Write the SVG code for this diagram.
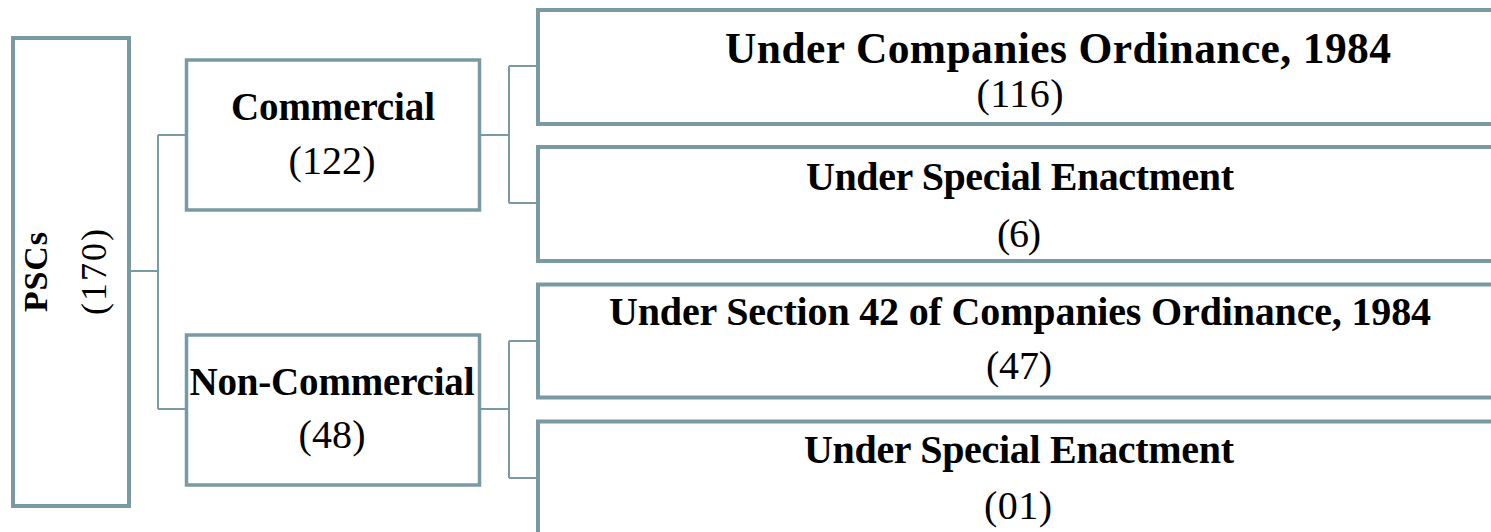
<svg xmlns="http://www.w3.org/2000/svg" width="1491" height="532" viewBox="0 0 1491 532">
  <style>
    .box { fill: #ffffff; stroke: #799aa3; stroke-width: 4; }
    .mid { fill: #ffffff; stroke: #799aa3; stroke-width: 3.5; }
    .link { fill: none; stroke: #799aa3; stroke-width: 2; }
    .lbl { font-family: "Liberation Serif", "DejaVu Serif", serif; font-weight: bold; fill: #000000; }
    .num { font-family: "Liberation Serif", "DejaVu Serif", serif; font-weight: normal; fill: #000000; }
  </style>

  <!-- connectors -->
  <g id="connectors">
    <path class="link" d="M130 271 H158 M158 135 V409 M158 135 H186 M158 409 H186"/>
    <path class="link" d="M481 135 H509 M509 66 V203 M509 66 H538 M509 203 H538"/>
    <path class="link" d="M481 409 H509 M509 341 V478 M509 341 H538 M509 478 H538"/>
  </g>

  <!-- root -->
  <g id="node-pscs">
    <rect class="box" x="13" y="38" width="116" height="468"/>
    <text class="lbl" font-size="34" text-anchor="middle" textLength="80" transform="translate(47,272) rotate(-90)">PSCs</text>
    <text class="num" font-size="36" text-anchor="middle" textLength="86" transform="translate(106,272) rotate(-90)">(170)</text>
  </g>

  <!-- second level -->
  <g id="node-commercial">
    <rect class="mid" x="186.5" y="60" width="293" height="150"/>
    <text class="lbl" x="333" y="120" font-size="39" text-anchor="middle" textLength="204">Commercial</text>
    <text class="num" x="332" y="174" font-size="40" text-anchor="middle" textLength="87">(122)</text>
  </g>
  <g id="node-noncommercial">
    <rect class="mid" x="186.5" y="335" width="293" height="150"/>
    <text class="lbl" x="332" y="395" font-size="39" text-anchor="middle" textLength="285">Non-Commercial</text>
    <text class="num" x="332" y="448" font-size="40" text-anchor="middle" textLength="67">(48)</text>
  </g>

  <!-- third level -->
  <g id="node-companies-ordinance">
    <rect class="box" x="538" y="10" width="970" height="114"/>
    <text class="lbl" x="1058" y="63" font-size="43.5" text-anchor="middle" textLength="666">Under Companies Ordinance, 1984</text>
    <text class="num" x="1020" y="107" font-size="40" text-anchor="middle" textLength="87">(116)</text>
  </g>
  <g id="node-special-commercial">
    <rect class="box" x="538" y="147" width="970" height="114"/>
    <text class="lbl" x="1020" y="190" font-size="40" text-anchor="middle" textLength="428">Under Special Enactment</text>
    <text class="num" x="1019" y="247" font-size="40" text-anchor="middle" textLength="44">(6)</text>
  </g>
  <g id="node-section-42">
    <rect class="box" x="538" y="284.5" width="970" height="113"/>
    <text class="lbl" x="1020" y="325" font-size="40" text-anchor="middle" textLength="822">Under Section 42 of Companies Ordinance, 1984</text>
    <text class="num" x="1019" y="379" font-size="40" text-anchor="middle" textLength="66">(47)</text>
  </g>
  <g id="node-special-noncommercial">
    <rect class="box" x="538" y="421.5" width="970" height="130"/>
    <text class="lbl" x="1019" y="463" font-size="40" text-anchor="middle" textLength="430">Under Special Enactment</text>
    <text class="num" x="1018" y="519" font-size="40" text-anchor="middle" textLength="68">(01)</text>
  </g>
</svg>
